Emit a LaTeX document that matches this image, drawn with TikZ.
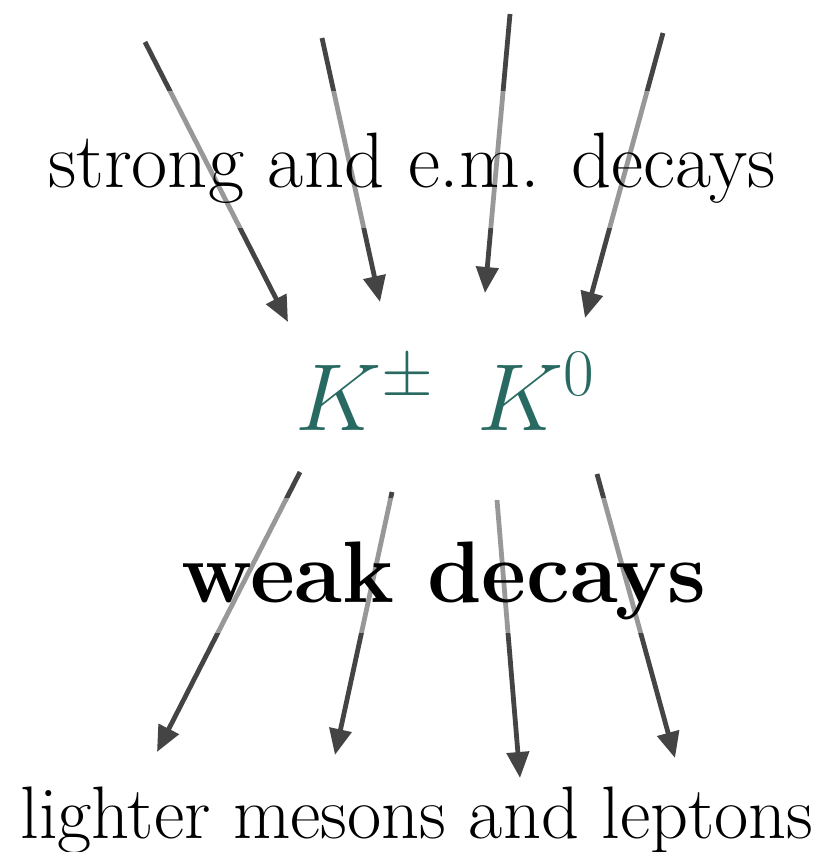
\documentclass[tikz,border=0pt]{standalone}
\usepackage{fix-cm}
\usetikzlibrary{arrows.meta}

\definecolor{kaon}{RGB}{40,106,98}
\definecolor{decaygray}{RGB}{68,68,68}

\begin{document}
\begin{tikzpicture}[
	x=0.5pt, y=-0.5pt,
	decay/.style={-{Triangle[length=13pt, width=11pt]}, line width=2.4pt, draw=decaygray},
	band/.style={fill=white, fill opacity=0.45, text opacity=1, inner xsep=6pt, inner ysep=0pt, anchor=base},
	plain/.style={inner sep=0pt, anchor=base}
]
	\useasboundingbox (0,0) rectangle (829,852);

	% production (top) and decay (bottom) arrows
	\foreach \name/\sx/\sy/\ex/\ey in {
		pa/145/42/288/322, pb/322/38/380/302, pc/510/14/485/293, pd/663/33/585/318,
		da/300/472/157/752, db/392/492/335/755, dc/497/500/520/778, dd/597/474/675/758}{
		\coordinate (\name s) at (\sx,\sy);
		\coordinate (\name e) at (\ex,\ey);
		\draw[decay] (\name s) -- (\name e);
	}

	\node[band, text height=48pt, text depth=20.5pt, font=\fontsize{39.3}{44}\selectfont] (strong) at (412,187) {strong and e.m. decays};
	\node[plain, text=kaon, font=\fontsize{47.6}{54}\selectfont] (kaons) at (445,430) {$K^{\pm}$\hspace{0.45em}$K^{0}$};
	\node[band, text height=52pt, text depth=15.5pt, font=\fontsize{43.7}{50}\selectfont\bfseries] (weak) at (444,602) {weak decays};
	\node[plain, font=\fontsize{37.2}{44}\selectfont] (light) at (417,838) {lighter mesons and leptons};
\end{tikzpicture}
\end{document}
